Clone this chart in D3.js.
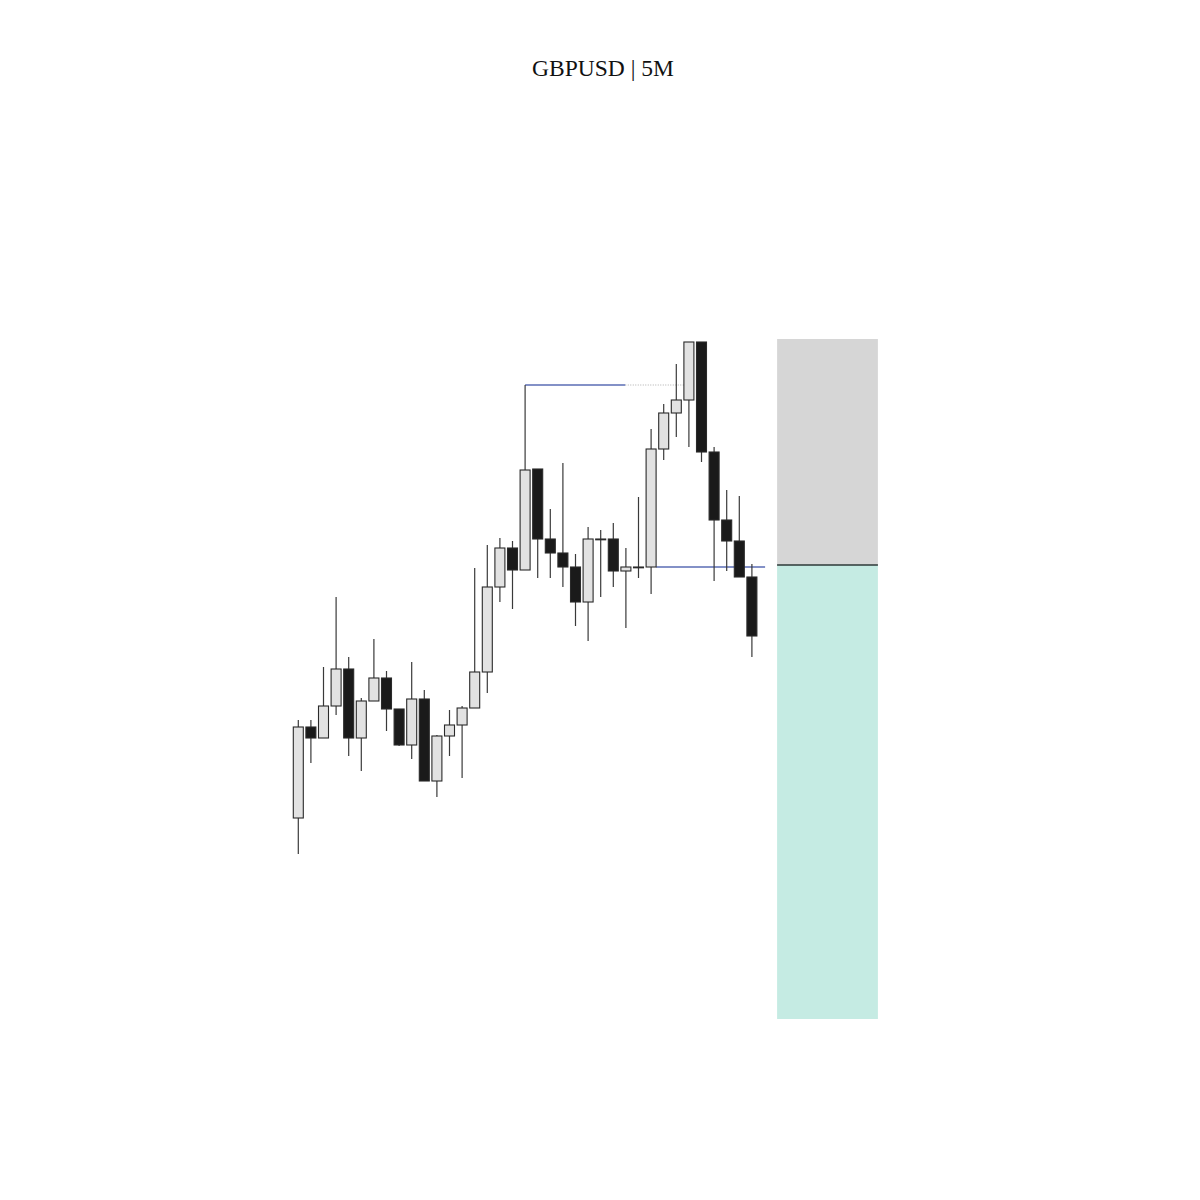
<!DOCTYPE html>
<html>
<head>
<meta charset="utf-8">
<script src="https://cdn.jsdelivr.net/npm/d3@7"></script>
<style>
  html, body { margin: 0; padding: 0; background: #ffffff; }
  svg { display: block; }
</style>
</head>
<body>
<svg id="chart" width="1200" height="1200"></svg>
<script>
// ---- Data (GBPUSD 5M) ----
const opens  = [1.2682,1.2773,1.2762,1.2794,1.2831,1.2762,1.2799,1.2822,1.2791,1.2755,1.2801,1.2719,1.2764,1.2775,1.2792,1.2828,1.2913,1.2952,1.2930,1.3031,1.2961,1.2947,1.2933,1.2898,1.2961,1.2961,1.2929,1.2933,1.2933,1.3051,1.3087,1.3100,1.3158,1.3048,1.2980,1.2959,1.2923];
const highs  = [1.2780,1.2780,1.2833,1.2903,1.2843,1.2802,1.2861,1.2829,1.2791,1.2838,1.2810,1.2765,1.2790,1.2794,1.2932,1.2955,1.2962,1.2959,1.3115,1.3031,1.2991,1.3037,1.2946,1.2973,1.2970,1.2977,1.2952,1.3003,1.3071,1.3096,1.3136,1.3158,1.3158,1.3053,1.3010,1.3004,1.2936];
const lows   = [1.2646,1.2737,1.2762,1.2785,1.2744,1.2729,1.2799,1.2769,1.2754,1.2741,1.2719,1.2703,1.2744,1.2722,1.2792,1.2807,1.2898,1.2891,1.2930,1.2922,1.2922,1.2913,1.2874,1.2859,1.2903,1.2913,1.2872,1.2922,1.2906,1.3040,1.3063,1.3053,1.3038,1.2919,1.2929,1.2923,1.2843];
const closes = [1.2773,1.2762,1.2794,1.2831,1.2762,1.2799,1.2822,1.2791,1.2755,1.2801,1.2719,1.2764,1.2775,1.2792,1.2828,1.2913,1.2952,1.2930,1.3030,1.2961,1.2947,1.2933,1.2898,1.2961,1.2961,1.2929,1.2933,1.2933,1.3051,1.3087,1.3100,1.3158,1.3048,1.2980,1.2959,1.2923,1.2864];

const titleText = "GBPUSD | 5M";

// Liquidity level (swing high) : start index, solid end index, dotted end index, price
const highLevel = { start: 18, solidEnd: 25.95, dottedEnd: 31, price: 1.3115 };
// Entry level : start index, end index, price
const entryLevel = { start: 28.4, end: 37, price: 1.2933 };
// Position box (risk / reward) : index range and prices
const boxStart = 38, boxEnd = 46;
const stopPrice = 1.3161, entryPrice = 1.2935, targetPrice = 1.2481;

const candles = opens.map((o, i) => ({ i, o, h: highs[i], l: lows[i], c: closes[i] }));

// ---- Scales ----
const x = d3.scaleLinear().domain([0, 36]).range([298.3, 751.9]);
const y = d3.scaleLinear().domain([1.25, 1.35]).range([1000, 0]);
const bodyW = 10;

const svg = d3.select("#chart");

// Title
svg.append("text")
  .attr("x", 603).attr("y", 76)
  .attr("text-anchor", "middle")
  .attr("font-family", "'Liberation Serif', 'DejaVu Serif', serif")
  .attr("font-size", 23.5)
  .attr("fill", "#111")
  .text(titleText);

// Position box
svg.append("rect")
  .attr("x", x(boxStart)).attr("width", x(boxEnd) - x(boxStart))
  .attr("y", y(stopPrice)).attr("height", y(entryPrice) - y(stopPrice))
  .attr("fill", "#d6d6d6");
svg.append("rect")
  .attr("x", x(boxStart)).attr("width", x(boxEnd) - x(boxStart))
  .attr("y", y(entryPrice)).attr("height", y(targetPrice) - y(entryPrice))
  .attr("fill", "#c5ebe3");
svg.append("line")
  .attr("x1", x(boxStart)).attr("x2", x(boxEnd))
  .attr("y1", y(entryPrice)).attr("y2", y(entryPrice))
  .attr("stroke", "#2c3837").attr("stroke-width", 1.4);

// Levels
svg.append("line")
  .attr("x1", x(highLevel.start)).attr("x2", x(highLevel.solidEnd))
  .attr("y1", y(highLevel.price)).attr("y2", y(highLevel.price))
  .attr("stroke", "#5a6db5").attr("stroke-width", 1.3);
svg.append("line")
  .attr("x1", x(highLevel.solidEnd)).attr("x2", x(highLevel.dottedEnd))
  .attr("y1", y(highLevel.price)).attr("y2", y(highLevel.price))
  .attr("stroke", "#999").attr("stroke-width", 0.8)
  .attr("stroke-dasharray", "1,1.5");
svg.append("line")
  .attr("x1", x(entryLevel.start)).attr("x2", x(entryLevel.end) + 0.6)
  .attr("y1", y(entryLevel.price)).attr("y2", y(entryLevel.price))
  .attr("stroke", "#5a6db5").attr("stroke-width", 1.3);

// Candles
const g = svg.append("g");
const cg = g.selectAll("g.candle").data(candles).join("g").attr("class", "candle");

cg.append("line")
  .attr("x1", d => x(d.i)).attr("x2", d => x(d.i))
  .attr("y1", d => y(d.h)).attr("y2", d => y(d.l))
  .attr("stroke", "#3a3a3a").attr("stroke-width", 1.2);

cg.append("rect")
  .attr("x", d => x(d.i) - bodyW / 2)
  .attr("width", bodyW)
  .attr("y", d => y(Math.max(d.o, d.c)))
  .attr("height", d => Math.max(0.8, Math.abs(y(d.o) - y(d.c))))
  .attr("fill", d => d.c > d.o ? "#e2e2e2" : "#1a1a1a")
  .attr("stroke", "#2a2a2a")
  .attr("stroke-width", 1.1);
</script>
</body>
</html>
